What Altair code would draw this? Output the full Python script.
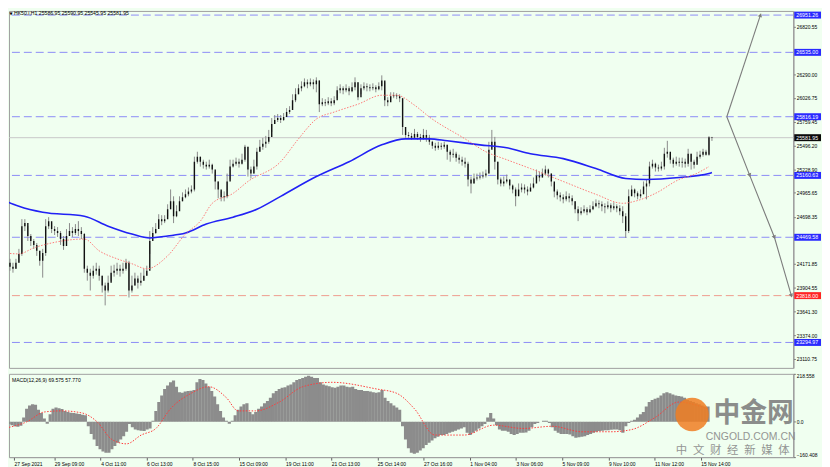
import json
import altair as alt
import pandas as pd

# ---------------- data ----------------
close = [24229, 24185, 24140, 24118, 24185, 24284, 24594, 24628, 24484, 24428,
         24384, 24318, 24207, 24295, 24594, 24650, 24561, 24539, 24517, 24450,
         24373, 24484, 24539, 24517, 24561, 24539, 24506, 24118, 24074, 24041,
         24096, 24118, 24041, 23930, 23875, 23963, 24074, 24096, 24118, 24096,
         24118, 24185, 23875, 23930, 24008, 23963, 23985, 24041, 24096, 24428,
         24517, 24561, 24672, 24650, 24672, 24783, 24871, 24705, 24760, 24871,
         24916, 24949, 24982, 25004, 25314, 25370, 25314, 25281, 25259, 25281,
         25226, 25093, 25004, 24916, 24927, 25093, 25259, 25292, 25314, 25292,
         25336, 25480, 25226, 25181, 25259, 25425, 25480, 25514, 25536, 25591,
         25735, 25779, 25801, 25779, 25813, 25868, 25890, 26001, 26067, 26134,
         26156, 26200, 26178, 26200, 26178, 26222, 25956, 25979, 25967, 25990,
         25967, 26001, 26111, 26134, 26111, 26134, 26100, 26145, 26200, 26034,
         26134, 26156, 26145, 26134, 26145, 26123, 26156, 26222, 26001, 25979,
         26045, 26056, 26045, 26023, 25702, 25613, 25602, 25580, 25624, 25591,
         25569, 25613, 25580, 25536, 25491, 25469, 25491, 25480, 25502, 25425,
         25392, 25403, 25359, 25336, 25314, 25292, 25115, 25071, 25126, 25137,
         25148, 25159, 25181, 25447, 25536, 25314, 25115, 25071, 25093, 25115,
         25049, 25004, 24927, 25004, 25026, 25004, 24982, 25026, 25071, 25159,
         25137, 25181, 25226, 25181, 25093, 24982, 24938, 24916, 24893, 24927,
         24905, 24871, 24783, 24738, 24760, 24783, 24749, 24783, 24816, 24849,
         24838, 24816, 24805, 24827, 24794, 24816, 24794, 24760, 24705, 24539,
         24927, 25004, 24960, 24927, 24949, 25038, 25071, 25259, 25292, 25248,
         25237, 25259, 25403, 25425, 25336, 25292, 25314, 25303, 25314, 25292,
         25403, 25314, 25281, 25370, 25392, 25425, 25392, 25586.95, 25581.95]

high = [24351, 24262, 24229, 24185, 24229, 24340, 24672, 24672, 24594, 24506,
        24450, 24406, 24318, 24340, 24672, 24694, 24628, 24594, 24583, 24539,
        24484, 24561, 24628, 24583, 24617, 24650, 24583, 24517, 24152, 24118,
        24152, 24185, 24152, 24041, 23963, 24041, 24152, 24163, 24185, 24163,
        24185, 24229, 24207, 24041, 24074, 24041, 24074, 24118, 24152, 24539,
        24583, 24628, 24727, 24716, 24716, 24838, 25004, 24927, 24827, 24927,
        24971, 25004, 25026, 25049, 25370, 25425, 25370, 25336, 25314, 25336,
        25292, 25204, 25093, 24982, 24982, 25181, 25336, 25336, 25359, 25348,
        25403, 25502, 25480, 25259, 25336, 25469, 25558, 25580, 25602, 25669,
        25801, 25835, 25846, 25835, 25857, 25912, 25934, 26067, 26134, 26178,
        26211, 26244, 26233, 26244, 26233, 26256, 26222, 26023, 26012, 26034,
        26023, 26045, 26156, 26178, 26156, 26178, 26156, 26200, 26256, 26200,
        26178, 26200, 26189, 26178, 26189, 26167, 26200, 26278, 26200, 26034,
        26089, 26089, 26078, 26067, 26023, 25669, 25646, 25635, 25680, 25646,
        25624, 25680, 25669, 25613, 25547, 25525, 25536, 25525, 25536, 25502,
        25447, 25458, 25425, 25392, 25370, 25359, 25314, 25148, 25181, 25181,
        25193, 25204, 25226, 25536, 25669, 25591, 25314, 25137, 25148, 25170,
        25115, 25060, 25026, 25071, 25071, 25060, 25038, 25071, 25137, 25226,
        25204, 25237, 25270, 25237, 25181, 25071, 25004, 24971, 24949, 24982,
        24960, 24938, 24871, 24816, 24805, 24827, 24805, 24827, 24871, 24893,
        24882, 24871, 24849, 24871, 24849, 24860, 24838, 24827, 24816, 24738,
        25004, 25049, 25015, 24982, 25004, 25093, 25115, 25314, 25336, 25303,
        25281, 25314, 25469, 25547, 25403, 25359, 25370, 25359, 25359, 25348,
        25458, 25403, 25336, 25425, 25436, 25458, 25447, 25600, 25590.95]

low = [24174, 24140, 24096, 24074, 24118, 24185, 24262, 24539, 24428, 24373,
       24340, 24262, 24152, 24019, 24262, 24561, 24517, 24495, 24473, 24384,
       24329, 24406, 24484, 24473, 24495, 24484, 24450, 24074, 23985, 23875,
       24008, 24052, 23985, 23852, 23709, 23852, 23985, 24030, 24052, 24030,
       24063, 24096, 23797, 23852, 23930, 23897, 23930, 23985, 24041, 24284,
       24473, 24506, 24583, 24605, 24628, 24705, 24783, 24628, 24694, 24805,
       24871, 24905, 24927, 24960, 24982, 25292, 25259, 25237, 25226, 25237,
       25181, 25004, 24905, 24871, 24871, 24905, 25115, 25248, 25270, 25248,
       25281, 25314, 25148, 25126, 25181, 25226, 25425, 25447, 25469, 25514,
       25646, 25735, 25757, 25746, 25768, 25824, 25846, 25912, 25979, 26067,
       26100, 26145, 26134, 26156, 26123, 26089, 25868, 25934, 25934, 25945,
       25934, 25945, 26023, 26078, 26067, 26089, 26056, 26089, 26111, 26001,
       26067, 26111, 26100, 26100, 26111, 26089, 26111, 26111, 25934, 25934,
       26001, 26023, 26012, 25979, 25613, 25580, 25569, 25558, 25580, 25558,
       25536, 25558, 25536, 25502, 25458, 25436, 25447, 25447, 25458, 25336,
       25314, 25359, 25314, 25292, 25270, 25248, 25038, 24960, 25071, 25104,
       25115, 25126, 25137, 25181, 25469, 25226, 25060, 25038, 25038, 25071,
       25004, 24960, 24816, 24938, 24971, 24960, 24938, 24982, 25015, 25093,
       25093, 25137, 25159, 25137, 25038, 24916, 24893, 24871, 24849, 24871,
       24860, 24827, 24738, 24650, 24716, 24738, 24716, 24738, 24772, 24805,
       24794, 24760, 24738, 24783, 24749, 24772, 24749, 24716, 24628, 24462,
       24517, 24938, 24916, 24893, 24905, 24982, 24893, 25038, 25237, 25204,
       25204, 25215, 25226, 25359, 25292, 25248, 25270, 25259, 25248, 25248,
       25259, 25226, 25237, 25314, 25348, 25370, 25381, 25380, 25545.95]

macd_hist = [-10, -15, -20, -22, -18, 20, 60, 75, 80, 78,
             55, 40, 15, -8, 35, 60, 65, 62, 58, 50,
             45, 42, 40, 38, 36, 32, 30, -20, -55, -80,
             -110, -125, -135, -140, -140, -125, -110, -95, -80, -65,
             -45, -10, -25, -35, -38, -40, -42, -35, -30, 5,
             50, 90, 120, 150, 165, 180, 188, 160, 135, 132,
             138, 140, 142, 145, 180, 195, 190, 175, 160, 140,
             115, 80, 50, 20, 5, -8, 5, 30, 55, 70,
             80, 85, 45, 35, 45, 60, 70, 85, 95, 110,
             130, 140, 150, 155, 158, 165, 170, 180, 190, 195,
             200, 205, 210, 205, 200, 200, 180, 170, 165, 162,
             158, 155, 160, 165, 165, 160, 158, 160, 150, 145,
             145, 140, 140, 138, 135, 132, 135, 145, 110, 95,
             85, 75, 65, 55, -20, -80, -120, -140, -145, -140,
             -130, -120, -105, -95, -85, -75, -68, -60, -60, -55,
             -50, -45, -40, -35, -30, -25, -50, -60, -50, -40,
             -30, -20, -10, 20, 40, 15, -15, -35, -40, -40,
             -45, -55, -60, -55, -50, -50, -48, -40, -25, -10,
             -5, 0, 5, 5, -5, -25, -40, -50, -55, -55,
             -55, -58, -65, -72, -70, -68, -65, -60, -55, -50,
             -45, -42, -40, -38, -38, -36, -35, -35, -38, -50,
             -20, -5, 5, 10, 20, 35, 45, 70, 90, 100,
             105, 110, 120, 130, 135, 130, 125, 120, 118, 115,
             110, 100, 95, 90, 85, 80, 75, 70, 69.575]

signal_bar = [0, 6, 12, 18, 25, 30, 35, 40, 45, 50, 55, 62, 68, 74, 78, 84, 92,
              100, 110, 125, 132, 138, 145, 155, 165, 175, 185, 195, 205, 212,
              220, 228, 238]
signal_val = [-25, 0, 45, 50, 40, 0, -80, -100, -60, -30, 60, 130, 160, 110, 50,
              50, 90, 160, 180, 150, 130, 60, -60, -60, -15, -30, -20, -45, -45,
              -35, 20, 90, 57.77]

ma200_bar = [0, 5, 13, 27, 35, 43, 49, 55, 61, 68, 77, 85, 93, 105, 116, 127,
             135, 143, 149, 160, 169, 177, 188, 199, 209, 216, 227, 237, 238]
ma200_val = [24882, 24816, 24749, 24705, 24594, 24506, 24462, 24484, 24517,
             24617, 24694, 24783, 24927, 25148, 25314, 25502, 25569, 25569,
             25547, 25502, 25469, 25403, 25348, 25237, 25126, 25115, 25137,
             25181, 25193]

ma50_bar = [0, 5, 10, 16, 27, 32, 38, 43, 48, 55, 61, 66, 70, 77, 82, 93, 99,
            105, 111, 119, 127, 132, 138, 143, 155, 162, 169, 177, 188, 199,
            208, 212, 219, 227, 232, 237]
ma50_val = [24295, 24284, 24351, 24406, 24450, 24318, 24229, 24174, 24118,
            24262, 24506, 24650, 24849, 24960, 25093, 25314, 25569, 25790,
            25868, 25956, 26056, 26056, 25945, 25813, 25569, 25425, 25336,
            25237, 25093, 24949, 24849, 24871, 24960, 25115, 25170, 25259]

blue_levels = [26951.26, 26535.00, 25816.19, 25160.63, 24469.58, 23294.97]
red_levels = [23818.00]
last_price = 25581.95
axis_prices = [26820.55, 26290.00, 26026.75, 25759.45, 25496.20, 25228.90,
               24965.65, 24698.35, 24171.85, 23904.55, 23641.30, 23374.00,
               23110.75]

time_ticks = [1.7, 15.4, 31.2, 46.8, 62.6, 78.3, 94.1, 109.7, 125.4, 141.1,
              156.9, 172.6, 188.3, 204.1, 219.8, 235.5]
time_labels = ["27 Sep 2021", "29 Sep 09:00", "4 Oct 11:00", "6 Oct 13:00",
               "8 Oct 15:00", "15 Oct 09:00", "19 Oct 11:00", "21 Oct 13:00",
               "25 Oct 14:00", "27 Oct 16:00", "1 Nov 04:00", "3 Nov 06:00",
               "5 Nov 09:00", "9 Nov 10:00", "11 Nov 12:00", "15 Nov 14:00"]

arrow_up_bar = [243, 254.3]
arrow_up_price = [25816.19, 26951.26]
arrow_dn_bar = [243, 250.7, 259, 264.7]
arrow_dn_price = [25816.19, 25160.63, 24469.58, 23818.00]

header_text = "HK50.i,H1  25586.95 25590.95 25545.95 25581.95"
macd_text = "MACD(12,26,9) 69.575 57.770"

# ---------------- tables ----------------
n = len(close)
bars = pd.DataFrame({
    "bar": list(range(n)),
    "open": [close[0]] + close[:-1],
    "high": high,
    "low": low,
    "close": close,
    "hist": macd_hist,
})
ma200 = pd.DataFrame({"bar": ma200_bar, "value": ma200_val})
ma50 = pd.DataFrame({"bar": ma50_bar, "value": ma50_val})
signal = pd.DataFrame({"bar": signal_bar, "value": signal_val})
blue_df = pd.DataFrame({"price": blue_levels, "text": [f"{p:.2f}" for p in blue_levels]})
red_df = pd.DataFrame({"price": red_levels, "text": [f"{p:.2f}" for p in red_levels]})
last_df = pd.DataFrame({"price": [last_price], "text": [f"{last_price:.2f}"]})
arrows = pd.DataFrame({
    "bar": arrow_up_bar + arrow_dn_bar,
    "price": arrow_up_price + arrow_dn_price,
    "seg": ["up"] * len(arrow_up_bar) + ["down"] * len(arrow_dn_bar),
    "order": list(range(len(arrow_up_bar))) + list(range(len(arrow_dn_bar))),
})

# ---------------- scales / axes ----------------
FONT = "Liberation Sans"
XS = alt.Scale(domain=[1.667, 265.333], nice=False, zero=False)
YS = alt.Scale(domain=[23010.8, 26997.4], nice=False, zero=False)
MS = alt.Scale(domain=[-160.408, 218.558], nice=False, zero=False)

yaxis = alt.Axis(orient="right", values=axis_prices, format=".2f", tickSize=2,
                 labelPadding=1, domainWidth=1.5, labelFontSize=5)
macd_axis = alt.Axis(orient="right", values=[218.558, 0, -160.408],
                     labelExpr="datum.value == 0 ? '0.0' : format(datum.value, '.3f')",
                     labelFlush=True, tickSize=2, labelPadding=1, domainWidth=1.5,
                     labelFontSize=5)
xaxis = alt.Axis(values=time_ticks,
                 labelExpr=f"{json.dumps(time_labels)}[indexof({json.dumps(time_ticks)}, datum.value)]",
                 labelAlign="left", labelAngle=0, tickSize=3, labelPadding=1,
                 labelFlush=False, labelOverlap=False, labelBaseline="top",
                 labelFontSize=5, domainWidth=1)


def X(field="bar"):
    return alt.X(f"{field}:Q", scale=XS, axis=None, title=None)


def Y(field):
    return alt.Y(f"{field}:Q", scale=YS, axis=yaxis, title=None)


def XM(field="bar"):
    return alt.X(f"{field}:Q", scale=XS, axis=xaxis, title=None)


def YM(field):
    return alt.Y(f"{field}:Q", scale=MS, axis=macd_axis, title=None)


# ---------------- main panel ----------------
lv_blue = alt.Chart(blue_df).mark_rule(color="#8C8CF6", strokeWidth=1, strokeDash=[8, 4]).encode(y=Y("price"))
lv_red = alt.Chart(red_df).mark_rule(color="#EE9C8E", strokeWidth=1, strokeDash=[8, 4]).encode(y=Y("price"))
lv_last = alt.Chart(last_df).mark_rule(color="#C8C8C8", strokeWidth=1).encode(y=Y("price"))

wick = alt.Chart(bars).mark_rule(color="#8A8A8A", strokeWidth=1, clip=True).encode(
    x=X(), y=Y("low"), y2="high:Q")
body = alt.Chart(bars).mark_rule(color="#111111", strokeWidth=1.4, clip=True).encode(
    x=X(), y=Y("open"), y2="close:Q")

ma_blue = alt.Chart(ma200).mark_line(color="#2121F5", strokeWidth=1.6, interpolate="monotone",
                                     clip=True).encode(x=X(), y=Y("value"))
ma_red = alt.Chart(ma50).mark_line(color="#FF6B6B", strokeWidth=0.9, strokeDash=[1.5, 1.5],
                                   interpolate="monotone", clip=True).encode(x=X(), y=Y("value"))

arrow_lines = alt.Chart(arrows).mark_line(color="#7C7C7C", strokeWidth=1.1).encode(
    x=X(), y=Y("price"), detail="seg:N", order="order:Q")

heads = []
up_end = arrows[(arrows.seg == "up")].iloc[[-1]]
heads.append(alt.Chart(up_end).mark_point(shape="triangle-up", angle=18.6, size=20, filled=True,
                                          color="#7C7C7C", opacity=1).encode(x=X(), y=Y("price")))
dn = arrows[arrows.seg == "down"]
for k, ang in [(1, 341), (2, 337), (3, 343)]:
    heads.append(alt.Chart(dn.iloc[[k]]).mark_point(shape="triangle-down", angle=ang, size=20,
                                                    filled=True, color="#7C7C7C", opacity=1)
                 .encode(x=X(), y=Y("price")))

BOX = "M-1,-0.26H1V0.26H-1Z"
tags = []
for df, col in [(blue_df, "#2A2AFF"), (red_df, "#FF2424"), (last_df, "#0A0A0A")]:
    tags.append(alt.Chart(df).mark_point(shape=BOX, size=729, filled=True, color=col, opacity=1,
                                         strokeWidth=0).encode(x=alt.value(805.5), y=Y("price")))
    tags.append(alt.Chart(df).mark_text(align="left", baseline="middle", color="white", font=FONT,
                                        fontSize=5.3).encode(x=alt.value(794), y=Y("price"), text="text:N"))

hdr_df = pd.DataFrame({"t": [header_text]})
header = alt.Chart(hdr_df).mark_text(align="left", baseline="top", color="black", font=FONT,
                                     fontSize=5.2).encode(x=alt.value(5), y=alt.value(0.5), text="t:N")
tri = alt.Chart(hdr_df).mark_text(align="left", baseline="top", color="black", font="DejaVu Sans",
                                  fontSize=4, text="▼").encode(x=alt.value(0.5), y=alt.value(1.2))

main = alt.layer(lv_blue, lv_red, lv_last, wick, body, ma_blue, ma_red, arrow_lines,
                 *heads, *tags, header, tri).properties(width=791, height=360)

# ---------------- MACD panel ----------------
hist = alt.Chart(bars).mark_bar(color="#8C8C8C", width=3.2, clip=True).encode(
    x=XM(), y=YM("hist"), y2=alt.datum(0))
sig = alt.Chart(signal).mark_line(color="#FF3B3B", strokeWidth=1, strokeDash=[1.5, 1.5],
                                  interpolate="monotone", clip=True).encode(x=XM(), y=YM("value"))
mlabel = alt.Chart(pd.DataFrame({"t": [macd_text]})).mark_text(
    align="left", baseline="middle", color="black", font=FONT, fontSize=5.1).encode(
    x=alt.value(3), y=alt.value(6), text="t:N")

wm = pd.DataFrame({"a": ["中金网"], "b": ["CNGOLD.COM.CN"], "c": ["中\u2002文\u2002财\u2002经\u2002新\u2002媒\u2002体"]})
logo = alt.Chart(wm).mark_point(shape="circle", size=1134, filled=True, color="#F07E22",
                                opacity=0.85).encode(x=alt.value(689), y=alt.value(41))
wm_a = alt.Chart(wm).mark_text(align="center", baseline="middle", color="#7A7A7A", opacity=0.85,
                               font="Noto Sans CJK SC", fontWeight="bold", fontSize=27).encode(
    x=alt.value(751), y=alt.value(41), text="a:N")
wm_b = alt.Chart(wm).mark_text(align="center", baseline="middle", color="#8A8A8A", opacity=0.9,
                               font=FONT, fontSize=10.5).encode(
    x=alt.value(748), y=alt.value(64), text="b:N")
wm_c = alt.Chart(wm).mark_text(align="center", baseline="middle", color="#8A8A8A", opacity=0.9,
                               font="Noto Sans CJK SC", fontSize=11.5).encode(
    x=alt.value(730), y=alt.value(78), text="c:N")

macd = alt.layer(hist, sig, mlabel, logo, wm_a, wm_b, wm_c).properties(width=791, height=84)

chart = alt.vconcat(main, macd, spacing=4).properties(
    padding=0, background="#F0FFF0"
).configure_view(stroke="#A0A0A0", strokeWidth=1).configure_axis(
    labelFont=FONT, labelColor="#000000", tickColor="#606060", domainColor="#A0A0A0", grid=False
)

chart.save("out.html", embed_options={"renderer": "svg", "actions": False})
